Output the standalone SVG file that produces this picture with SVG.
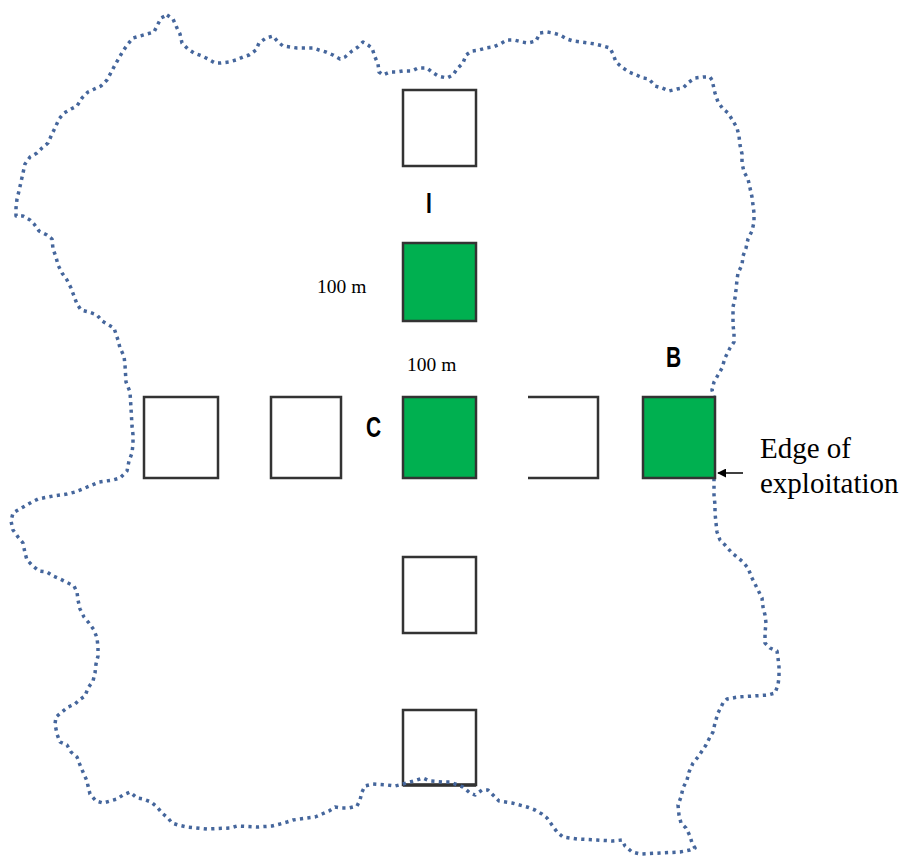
<svg xmlns="http://www.w3.org/2000/svg" width="905" height="856" viewBox="0 0 905 856">
<style>
.edge{fill:none;stroke:#45669c;stroke-width:3.5;stroke-dasharray:3.2 4.3;stroke-linejoin:round}
.plot{stroke:#333;stroke-width:2.5}
.white{fill:#fff}
.green{fill:#00b050}
.lbl{font-family:"Liberation Sans",Arial,sans-serif;font-weight:bold;font-size:30px;fill:#000}
.serif{font-family:"Liberation Serif","Times New Roman",serif;fill:#000}
</style>
<defs>
<marker id="ah" viewBox="0 0 10 10" refX="9" refY="5" markerWidth="6" markerHeight="6" orient="auto-start-reverse">
<path d="M0,0 L10,5 L0,10 z" fill="#000"/>
</marker>
</defs>
<g id="plot-lower2"><rect class="plot white" x="403" y="710" width="73" height="75"/><line x1="403" y1="785" x2="476" y2="785" stroke="#333" stroke-width="3.5"/></g>
<g id="boundary">
<path class="edge" d="M167,15 L173,19 177,28 180,34 182,43 188,49 194,53 202,56 208,59 215,63 221,63 229,62 236,60 243,57 249,55 256,50 259,43 266,38 273,36 278,42 283,46 290,47 297,48 303,48 313,48 319,50 326,52 333,55 340,59 345,57 352,51 358,47 363,42 368,45 372,48 375,57 378,64 379,72 383,75 390,72 397,72 403,71 412,71 418,68 427,68 432,72 438,76 447,78 453,75 457,69 463,63 466,55 472,51 479,50 486,48 493,47 500,44 507,40 514,40 522,42 528,43 536,41 540,33 547,32 553,33 560,35 567,39 573,41 581,42 588,43 595,44 603,46 610,48 613,54 616,62 623,68 629,72 634,74 643,78 649,79 655,86 662,88 669,91 677,89 683,88 689,82 695,78 703,77 710,77 712,80 715,93 718,102 723,109 728,113 733,121 737,128 739,136 740,145 742,154 742,163 744,172 748,179 750,188 752,197 753,205 754,213 754,222 752,231 748,239 746,248 743,256 742,265 738,273 737,280 736,290 735,298 733,307 733,315 733,325 734,333 734,342 730,348 725,358 722,368 718,375 714,382 712,390 714,397 714,479 714,487 714,495 715,505 715,513 716,523 717,532 720,540 725,545 732,553 737,557 743,562 748,568 752,578 755,584 758,590 762,598 763,607 765,615 766,623 765,633 765,643 770,648 777,651 778,658 779,667 779,677 778,685 775,693 768,695 753,696 738,697 727,699 723,703 718,713 715,723 713,732 710,737 706,745 698,757 693,763 689,772 687,780 683,788 681,797 678,805 679,815 681,823 686,828 690,836 692,843 695,848 690,850 680,852 660,853 640,854 632,852 625,846 622,840 613,841 597,840 577,839 563,837 557,832 552,825 547,818 542,814 535,810 527,807 512,803 499,801 493,795 488,790 482,790 475,795 470,793 463,787 450,782 443,782 430,781 423,778 417,780 403,784 395,786 387,785 373,784 365,786 362,792 360,800 357,806 349,808 342,808 335,807 329,811 322,814 315,817 307,818 293,820 287,822 280,824 272,826 258,827 237,826 230,828 207,829 187,827 178,825 172,823 168,818 162,813 157,807 151,802 143,799 137,798 130,792 123,795 117,799 110,801 103,803 96,801 90,794 88,786 87,781 83,772 80,765 77,757 71,752 67,745 60,742 57,734 55,724 56,717 62,712 68,707 75,704 79,700 85,696 88,688 93,681 95,673 96,664 98,656 98,647 97,638 94,630 89,623 84,617 80,609 78,600 77,592 74,586 66,582 60,579 53,576 47,572 39,571 33,566 27,560 25,553 23,543 18,537 13,530 11,521 13,513 18,510 25,506 32,502 38,499 53,496 67,494 75,492 85,488 92,485 99,482 113,480 120,478 127,471 129,461 132,453 133,444 133,435 132,426 131,408 130,392 126,382 125,365 124,356 120,348 118,340 114,328 107,324 102,321 97,315 89,312 81,310 77,304 74,296 71,288 67,280 62,273 58,265 56,257 53,249 52,239 47,235 39,231 34,224 30,220 23,216 16,216 16,208 17,199 19,191 21,182 23,173 25,164 30,157 37,153 42,148 48,143 52,134 55,128 59,119 64,113 71,109 77,106 82,98 88,92 101,86 107,80 115,65 123,51 128,44 133,38 147,34 154,32 161,18 Z"/>
</g>
<g id="plot-top"><rect class="plot white" x="403" y="90" width="73" height="76"/></g>
<g id="plot-I"><rect class="plot green" x="403" y="243" width="73" height="78"/></g>
<g id="plot-C"><rect class="plot green" x="403" y="397" width="73" height="81"/></g>
<g id="plot-left1"><rect class="plot white" x="144" y="397" width="74" height="81"/></g>
<g id="plot-left2"><rect class="plot white" x="271" y="397" width="70" height="81"/></g>
<g id="plot-right1"><path class="plot" fill="#fff" d="M528,397 H598 V478 H528" stroke-linejoin="miter"/></g>
<g id="plot-B"><rect class="plot green" x="643" y="397" width="72" height="81"/></g>
<g id="plot-lower1"><rect class="plot white" x="403" y="557" width="73" height="76"/></g>
<g id="labels">
<text class="lbl" transform="translate(426,213) scale(0.7,1)">I</text>
<text class="lbl" transform="translate(366,437) scale(0.7,1)">C</text>
<text class="lbl" transform="translate(666,367) scale(0.7,1)">B</text>
<text class="serif" x="317" y="293" font-size="19.5">100 m</text>
<text class="serif" x="407" y="371" font-size="19.5">100 m</text>
<text class="serif" x="760" y="458" font-size="29">Edge of</text>
<text class="serif" x="760" y="493" font-size="29">exploitation</text>
</g>
<g id="connectors">
<line x1="743" y1="473" x2="718" y2="473" stroke="#000" stroke-width="1.5" marker-end="url(#ah)"/>
</g>
</svg>
